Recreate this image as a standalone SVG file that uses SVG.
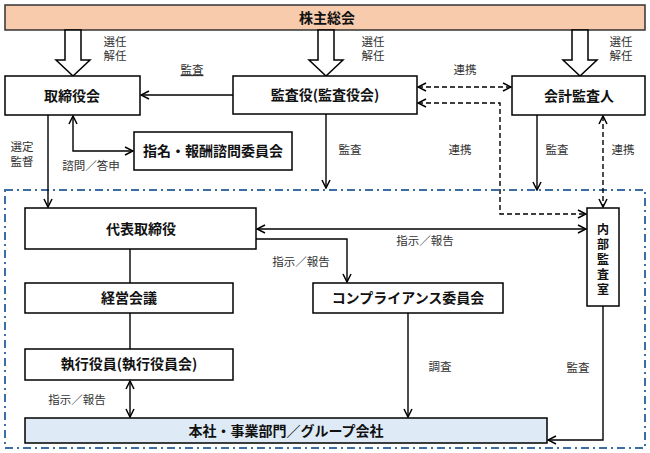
<svg xmlns="http://www.w3.org/2000/svg" width="650" height="453" viewBox="0 0 650 453">
<style>
.box{fill:#fff;stroke:#000;stroke-width:1.5}
.bt{font-family:"Noto Sans CJK JP","Noto Sans CJK SC",sans-serif;font-size:14px;font-weight:bold;fill:#111;text-anchor:middle}
.vt{font-family:"Liberation Sans","Noto Sans CJK JP",sans-serif;font-size:12px}
.lb{font-family:"Liberation Sans","Noto Sans CJK JP",sans-serif;font-size:11.5px;fill:#333;text-anchor:middle}
.c{fill:none;stroke:#000;stroke-width:1.4}
.d{stroke-dasharray:5 3}
.a{marker-end:url(#ah)}
.aa{marker-start:url(#ah);marker-end:url(#ah)}
.big{fill:#fff;stroke:#000;stroke-width:1.5}
</style>
<defs>
<marker id="ah" viewBox="0 0 10 10" refX="9" refY="5" markerWidth="10" markerHeight="10" markerUnits="userSpaceOnUse" orient="auto-start-reverse">
<path d="M1,1 L9,5 L1,9" fill="none" stroke="#000" stroke-width="1.5"/>
</marker>
</defs>
<rect x="5" y="190" width="640" height="258" fill="none" stroke="#3A6EA5" stroke-width="2" stroke-dasharray="8 4 2 4"/>
<g id="shareholders">
<rect x="5" y="5" width="640" height="25" fill="#F8CBAD" stroke="#333" stroke-width="1.5"/>
<text class="bt" x="327" y="23">株主総会</text>
</g>
<g id="big-arrows">
<polygon class="big" points="65,30 81,30 81,60 90,60 73,76 56,60 65,60"/>
<polygon class="big" points="318,30 334,30 334,60 343,60 326,76 309,60 318,60"/>
<polygon class="big" points="572,30 588,30 588,60 597,60 580,76 563,60 572,60"/>
</g>
<g id="board">
<rect class="box" x="5" y="76" width="135" height="39"/>
<text class="bt" x="72" y="101">取締役会</text>
</g>
<g id="auditors">
<rect class="box" x="233" y="76" width="184" height="38"/>
<text class="bt" x="325" y="100">監査役(監査役会)</text>
</g>
<g id="accounting-auditor">
<rect class="box" x="512" y="76" width="133" height="39"/>
<text class="bt" x="579" y="101">会計監査人</text>
</g>
<g id="nomination">
<rect class="box" x="134" y="132" width="158" height="38"/>
<text class="bt" x="213" y="156">指名・報酬諮問委員会</text>
</g>
<g id="ceo">
<rect class="box" x="25" y="208" width="231" height="41"/>
<text class="bt" x="141" y="234">代表取締役</text>
</g>
<g id="internal-audit">
<rect class="box" x="587" y="208" width="32" height="98"/>
<text class="bt vt" x="603"><tspan x="603" y="234">内</tspan><tspan x="603" y="249">部</tspan><tspan x="603" y="264">監</tspan><tspan x="603" y="279">査</tspan><tspan x="603" y="294">室</tspan></text>
</g>
<g id="management">
<rect class="box" x="25" y="283" width="208" height="30"/>
<text class="bt" x="129" y="303">経営会議</text>
</g>
<g id="compliance">
<rect class="box" x="313" y="283" width="190" height="30"/>
<text class="bt" x="408" y="303">コンプライアンス委員会</text>
</g>
<g id="officers">
<rect class="box" x="25" y="349" width="208" height="31"/>
<text class="bt" x="129" y="369">執行役員(執行役員会)</text>
</g>
<g id="group">
<rect x="25" y="418" width="522" height="25" fill="#DEEBF7" stroke="#000" stroke-width="1.5"/>
<text class="bt" x="286" y="436">本社・事業部門／グループ会社</text>
</g>
<g id="connectors">
<line class="c a" x1="233" y1="95" x2="141" y2="95"/>
<line class="c d aa" x1="418" y1="87" x2="511" y2="87"/>
<path class="c d aa" d="M418,103 H500 V214 H586"/>
<line class="c d aa" x1="603" y1="116" x2="603" y2="207"/>
<line class="c a" x1="537" y1="115" x2="537" y2="190"/>
<line class="c a" x1="326" y1="114" x2="326" y2="188"/>
<line class="c a" x1="48" y1="115" x2="48" y2="207"/>
<path class="c aa" d="M73,116 V151 H133"/>
<line class="c aa" x1="257" y1="229" x2="586" y2="229"/>
<path class="c a" d="M256,239 H347 V282"/>
<line class="c" x1="130" y1="249" x2="130" y2="283"/>
<line class="c" x1="130" y1="313" x2="130" y2="349"/>
<line class="c aa" x1="130" y1="381" x2="130" y2="417"/>
<line class="c a" x1="408" y1="313" x2="408" y2="417"/>
<path class="c a" d="M603,306 V440 H548"/>
</g>
<g id="labels">
<text class="lb"><tspan x="115" y="46">選任</tspan><tspan x="115" y="60">解任</tspan></text>
<text class="lb"><tspan x="373" y="46">選任</tspan><tspan x="373" y="60">解任</tspan></text>
<text class="lb"><tspan x="621" y="46">選任</tspan><tspan x="621" y="60">解任</tspan></text>
<text class="lb" x="192" y="74" text-decoration="underline">監査</text>
<text class="lb" x="465" y="74">連携</text>
<text class="lb" x="350" y="154">監査</text>
<text class="lb" x="460" y="154">連携</text>
<text class="lb" x="557" y="154">監査</text>
<text class="lb" x="623" y="154">連携</text>
<text class="lb"><tspan x="22" y="151">選定</tspan><tspan x="22" y="166">監督</tspan></text>
<text class="lb" x="91" y="170">諮問／答申</text>
<text class="lb" x="425" y="245">指示／報告</text>
<text class="lb" x="301" y="266">指示／報告</text>
<text class="lb" x="77" y="404">指示／報告</text>
<text class="lb" x="440" y="371">調査</text>
<text class="lb" x="578" y="372">監査</text>
</g>
</svg>
